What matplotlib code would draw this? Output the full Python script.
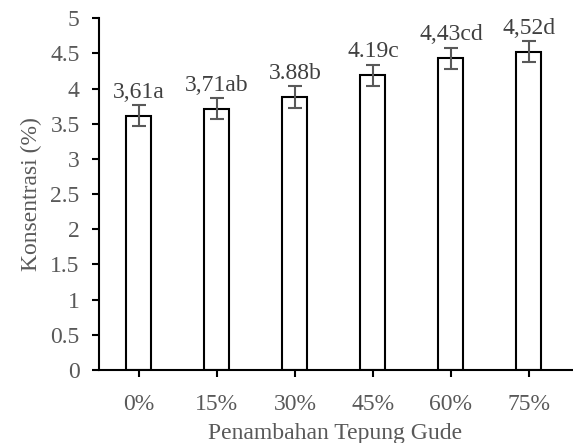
import matplotlib.pyplot as plt
import numpy as np

categories = ['0%', '15%', '30%', '45%', '60%', '75%']
values = [3.61, 3.71, 3.88, 4.19, 4.43, 4.52]
errors = [0.15, 0.15, 0.15, 0.15, 0.15, 0.15]
labels = ['3,61a', '3,71ab', '3.88b', '4.19c', '4,43cd', '4,52d']

plt.rcParams['font.family'] = ['Liberation Serif', 'DejaVu Serif']
text_color = '#595959'
fs = 17

fig = plt.figure(figsize=(5.73, 4.43), dpi=100)
ax = fig.add_axes([0.173, 0.165, 0.825, 0.794])

x = np.arange(len(categories))
ax.bar(x, values, width=0.32, color='white', edgecolor='black', linewidth=1.5, zorder=2)
ax.errorbar(x, values, yerr=errors, fmt='none', ecolor='#595959', elinewidth=1.5,
            capsize=5, capthick=1.5, zorder=3)

for xi, v, e, lab in zip(x, values, errors, labels):
    ax.annotate(lab, (xi, v + e), xytext=(0, 2), textcoords='offset points',
                ha='center', va='bottom', fontsize=fs, color='#404040')

ax.set_xlim(-0.51, 5.55)
ax.set_ylim(0, 5)
ax.set_yticks(np.arange(0, 5.01, 0.5))
ax.set_yticklabels(['0', '0.5', '1', '1.5', '2', '2.5', '3', '3.5', '4', '4.5', '5'])
ax.set_xticks(x)
ax.set_xticklabels(categories)

for s in ['top', 'right']:
    ax.spines[s].set_visible(False)
for s in ['left', 'bottom']:
    ax.spines[s].set_linewidth(1.5)
    ax.spines[s].set_color('black')

ax.tick_params(axis='both', labelsize=fs, labelcolor=text_color, color='black',
               width=1.5, length=5, direction='out')
ax.tick_params(axis='x', pad=12)
ax.tick_params(axis='y', pad=9)

ax.set_xlabel('Penambahan Tepung Gude', fontsize=fs, color=text_color, labelpad=6)
ax.set_ylabel('Konsentrasi (%)', fontsize=fs, color=text_color, labelpad=6)

fig.savefig('out.png', dpi=100)
